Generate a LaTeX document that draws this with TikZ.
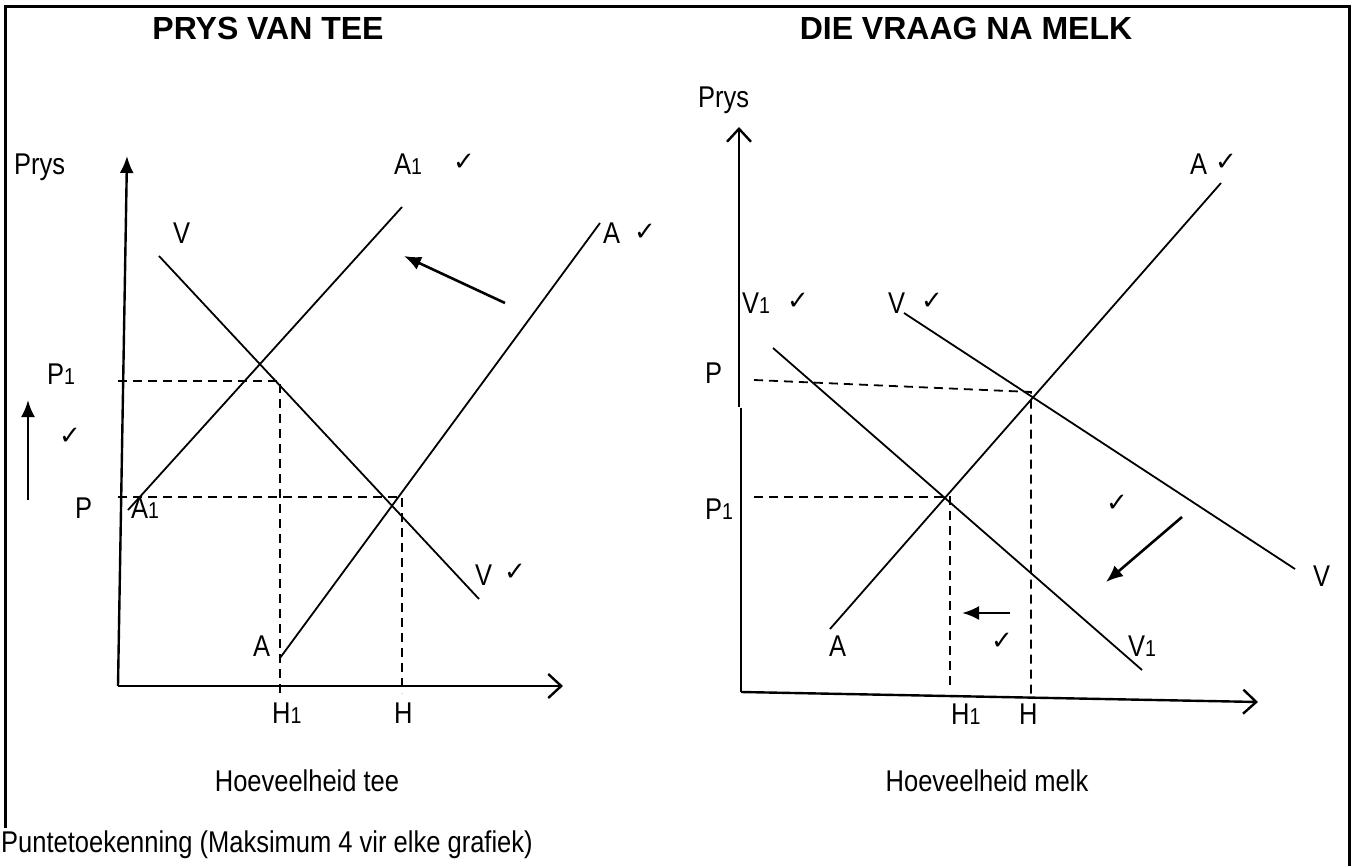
\documentclass[tikz,border=0pt]{standalone}
\usepackage{fontspec}
\setmainfont{Liberation Sans}[FakeStretch=0.85]
\newfontfamily\titlefont{Liberation Sans}
\newfontfamily\checkfont{DejaVu Sans}
\usetikzlibrary{arrows.meta}
\newcommand{\lowsub}[1]{{\fontsize{23}{23}\selectfont #1}}
\newcommand{\ck}{{\checkfont\fontsize{26}{26}\selectfont ✓}}
\begin{document}
\begin{tikzpicture}[x=1pt,y=-1pt,
  lbl/.style={anchor=base west, inner sep=0pt, font=\fontsize{30}{33}\selectfont},
  lblc/.style={anchor=base, inner sep=0pt, font=\fontsize{30}{33}\selectfont},
  ckn/.style={anchor=center, inner sep=0pt},
  ttl/.style={anchor=base, inner sep=0pt, font=\titlefont\bfseries\fontsize{32}{35}\selectfont},
  curve/.style={line width=1.8pt},
  axis/.style={line width=2.4pt},
  guide/.style={line width=1.8pt, dash pattern=on 9pt off 6pt},
  shiftarrow/.style={line width=2.6pt, -{Latex[length=17pt,width=14pt]}},
  filledhead/.style={-{Latex[length=17pt,width=14pt]}},
  openhead/.style={-{Straight Barb[length=13pt,width=24pt,line width=2.4pt]}}
]
\useasboundingbox (0,0) rectangle (1354,866);
% frame
\coordinate (fbl) at (5,828);
\coordinate (ftl) at (5,7);
\coordinate (ftr) at (1349,7);
\coordinate (fbr) at (1349,870);
\draw[line width=3pt] (fbl) -- (ftl) -- (ftr) -- (fbr);

% titles
\node[ttl] (t1) at (268,40) {PRYS VAN TEE};
\node[ttl] (t2) at (966,40) {DIE VRAAG NA MELK};

% ===== left graph =====
\coordinate (O1) at (118,686);
\coordinate (Y1) at (127,156);
\coordinate (X1) at (563,686);
\draw[axis, filledhead] (O1) -- (Y1);
\draw[axis, openhead] (O1) -- (X1);

\coordinate (a1s) at (128,510);
\coordinate (a1e) at (402,207);
\coordinate (as) at (280,658);
\coordinate (ae) at (600,223);
\coordinate (vs) at (159,256);
\coordinate (ve) at (479,599);
\draw[curve] (a1s) -- (a1e);
\draw[curve] (as) -- (ae);
\draw[curve] (vs) -- (ve);

\coordinate (p1l) at (118,381);
\coordinate (p1c) at (280,381);
\coordinate (p1b) at (280,693);
\coordinate (pl) at (118,497);
\coordinate (pc) at (402,497);
\coordinate (pb) at (402,693);
\draw[guide] (p1l) -- (p1c) -- (p1b);
\draw[guide] (pl) -- (pc) -- (pb);

\coordinate (upS) at (28,500);
\coordinate (upE) at (28,400);
\draw[shiftarrow] (upS) -- (upE);
\coordinate (shS) at (505,303);
\coordinate (shE) at (404,256);
\draw[shiftarrow] (shS) -- (shE);

\node[lbl] (lprys) at (14,175) {Prys};
\node[lbl] (la1top) at (394,175) {A\lowsub{1}};
\node[ckn] (ck1) at (464,162) {\ck};
\node[lbl] (lvtop) at (173,244) {V};
\node[lbl] (latop) at (603,244) {A};
\node[ckn] (ck2) at (645,232) {\ck};
\node[lbl] (lp1) at (47,384) {P\lowsub{1}};
\node[ckn] (ck3) at (70,436) {\ck};
\node[lbl] (lp) at (75,518) {P};
\node[lbl] (la1low) at (131,518) {A\lowsub{1}};
\node[lbl] (lvlow) at (475,585) {V};
\node[ckn] (ck4) at (515,572) {\ck};
\node[lbl] (lalow) at (253,656) {A};
\node[lbl] (lh1) at (272,723) {H\lowsub{1}};
\node[lbl] (lh) at (394,723) {H};
\node[lblc] (lqt) at (307,791) {Hoeveelheid tee};

% ===== right graph =====
\coordinate (Y2b) at (739,407);
\coordinate (Y2t) at (739,127);
\coordinate (Y2l) at (741,408);
\coordinate (O2) at (741,692);
\coordinate (X2) at (1258,702);
\draw[axis, openhead] (Y2b) -- (Y2t);
\draw[axis] (Y2l) -- (O2);
\draw[axis, openhead] (O2) -- (X2);

\coordinate (ras) at (830,629);
\coordinate (rae) at (1221,183);
\coordinate (rvs) at (904,313);
\coordinate (rve) at (1295,569);
\coordinate (rv1s) at (773,348);
\coordinate (rv1e) at (1142,670);
\draw[curve] (ras) -- (rae);
\draw[curve] (rvs) -- (rve);
\draw[curve] (rv1s) -- (rv1e);

\coordinate (rpl) at (754,380);
\coordinate (rpc) at (1031,392);
\coordinate (rpb) at (1031,695);
\coordinate (rp1l) at (754,497);
\coordinate (rp1c) at (950,497);
\coordinate (rp1b) at (950,687);
\draw[guide] (rpl) -- (rpc) -- (rpb);
\draw[guide] (rp1l) -- (rp1c) -- (rp1b);

\coordinate (rshS) at (1182,517);
\coordinate (rshE) at (1106,582);
\draw[shiftarrow] (rshS) -- (rshE);
\coordinate (rhS) at (1010,613);
\coordinate (rhE) at (962,613);
\draw[shiftarrow] (rhS) -- (rhE);

\node[lbl] (rprys) at (698,108) {Prys};
\node[lbl] (ratop) at (1190,175) {A};
\node[ckn] (rck1) at (1226,162) {\ck};
\node[lbl] (rv1top) at (742,314) {V\lowsub{1}};
\node[ckn] (rck2) at (798,301) {\ck};
\node[lbl] (rvtop) at (888,314) {V};
\node[ckn] (rck3) at (932,301) {\ck};
\node[lbl] (rp) at (705,383) {P};
\node[lbl] (rp1) at (705,519) {P\lowsub{1}};
\node[ckn] (rck4) at (1117,503) {\ck};
\node[lbl] (rvright) at (1313,586) {V};
\node[lbl] (ralow) at (829,656) {A};
\node[ckn] (rck5) at (1002,641) {\ck};
\node[lbl] (rv1low) at (1128,656) {V\lowsub{1}};
\node[lbl] (rh1) at (951,724) {H\lowsub{1}};
\node[lbl] (rh) at (1019,724) {H};
\node[lblc] (rqm) at (987,791) {Hoeveelheid melk};

% footer
\node[lbl] (foot) at (1,852) {Puntetoekenning (Maksimum 4 vir elke grafiek)};
\end{tikzpicture}
\end{document}
